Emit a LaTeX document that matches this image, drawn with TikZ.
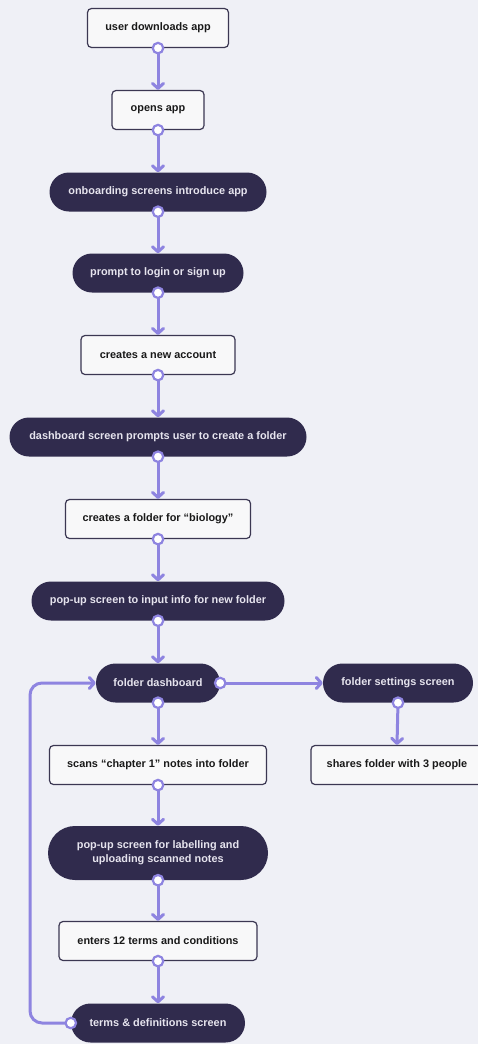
\documentclass[tikz,border=0pt]{standalone}
\usepackage{fontspec}
\setmainfont{Liberation Sans}
\usetikzlibrary{arrows.meta}
\definecolor{bg}{HTML}{EFF0F6}
\definecolor{pill}{HTML}{302B4D}
\definecolor{pilltext}{HTML}{E6E4EE}
\definecolor{boxfill}{HTML}{F8F8F9}
\definecolor{boxline}{HTML}{3B3752}
\definecolor{flow}{HTML}{8E84E0}
\begin{document}
\begin{tikzpicture}[x=1pt,y=-1pt,
  lbl/.style={font=\bfseries\fontsize{10.9}{14}\selectfont, align=center, inner sep=0pt, minimum height=39pt},
  box/.style={lbl, draw=boxline, line width=1.2pt, fill=boxfill, rounded corners=4pt, text=black!90},
  pillnode/.style={lbl, fill=pill, rounded corners=19.5pt, text=pilltext},
  flowline/.style={draw=flow, line width=3pt, line cap=round, line join=round, -{Straight Barb[length=5pt,width=11pt,line cap=round,line join=round]}},
  dot/.style={circle, draw=flow, fill=white, line width=2.2pt, minimum size=10.5pt, inner sep=0pt}]
\useasboundingbox (0,0) rectangle (478,1044);
\fill[bg] (0,0) rectangle (478,1044);

\node[box, minimum width=141pt] (n1) at (158,28) {user downloads app};
\node[box, minimum width=92pt] (n2) at (158,110) {opens app};
\node[pillnode, minimum width=217pt] (n3) at (158,192) {onboarding screens introduce app};
\node[pillnode, minimum width=171pt] (n4) at (158,273) {prompt to login or sign up};
\node[box, minimum width=154pt] (n5) at (158,355) {creates a new account};
\node[pillnode, minimum width=297pt] (n6) at (158,437) {dashboard screen prompts user to create a folder};
\node[box, minimum width=185pt] (n7) at (158,519) {creates a folder for “biology”};
\node[pillnode, minimum width=253pt] (n8) at (158,601) {pop-up screen to input info for new folder};
\node[pillnode, minimum width=124pt] (n9) at (158,683) {folder dashboard};
\node[pillnode, minimum width=150pt] (n10) at (398,683) {folder settings screen};
\node[box, minimum width=172pt] (n11) at (397,765) {shares folder with 3 people};
\node[box, minimum width=217pt] (n12) at (158,765) {scans “chapter 1” notes into folder};
\node[pillnode, minimum width=220pt, minimum height=54pt, rounded corners=27pt] (n13) at (158,853) {pop-up screen for labelling and\\uploading scanned notes};
\node[box, minimum width=198pt] (n14) at (158,941) {enters 12 terms and conditions};
\node[pillnode, minimum width=174pt] (n15) at (158,1023) {terms \& definitions screen};

\foreach \a/\b in {n1/n2,n2/n3,n3/n4,n4/n5,n5/n6,n6/n7,n7/n8,n8/n9,n9/n12,n12/n13,n13/n14,n14/n15,n10/n11}{
  \draw[flowline] (\a.south) -- (\b.north);
  \node[dot] (d\a) at (\a.south) {};
}
\draw[flowline] (n9.east) -- (n10.west);
\node[dot] (dn9e) at (n9.east) {};

\coordinate (lp) at (30,1023);
\draw[flowline, rounded corners=12pt] (n15.west) -- (lp) |- (n9.west);
\node[dot] (dn15) at (n15.west) {};
\end{tikzpicture}
\end{document}
